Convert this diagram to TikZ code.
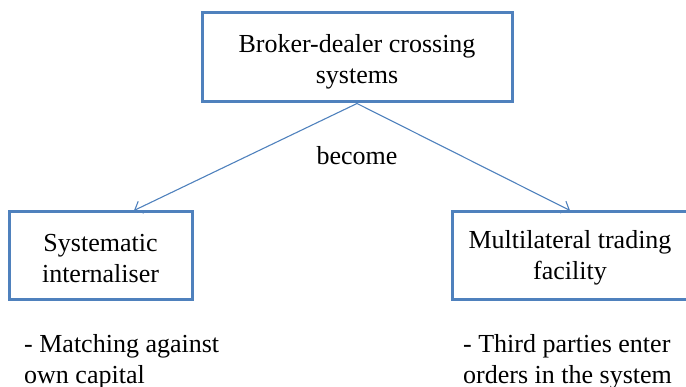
\documentclass[tikz,border=0pt]{standalone}
\usepackage{fontspec}
\setmainfont{Liberation Serif}
\usepackage{tikz}
\usetikzlibrary{arrows.meta,positioning}
\definecolor{boxblue}{RGB}{79,129,189}
\newcommand{\boxstrut}[1]{\rule{0pt}{#1}}
\tikzset{
  sysbox/.style={draw=boxblue,line width=3pt,align=center,inner sep=0pt},
  becomearrow/.style={draw=boxblue,line width=1.1pt,-{Straight Barb[length=7pt,width=13pt]}},
  notetext/.style={align=left,anchor=north west,inner sep=0pt}
}
\begin{document}
\begin{tikzpicture}[x=1pt,y=1pt,font=\fontsize{26}{31}\selectfont]
\useasboundingbox (0,0) rectangle (686,387);
%top box
\node[sysbox,minimum width=310pt,minimum height=89pt] (broker) at (357,329.5) {\boxstrut{26pt}Broker-dealer crossing\\systems};
%the two boxes below
\node[sysbox,minimum width=183pt,minimum height=88pt] (si) at (100.5,131) {\boxstrut{22pt}Systematic\\internaliser};
\node[sysbox,minimum width=236pt,minimum height=88pt] (mtf) at (570,131) {\boxstrut{22pt}Multilateral trading\\facility};
%arrows and label
\draw[becomearrow] (broker.south) -- ([xshift=33.5pt]si.north);
\draw[becomearrow] (broker.south) -- (mtf.north);
\node (become) at (357,231) {become};
%notes under the boxes
\node[notetext] (sinote) at (24,53) {- Matching against\\own capital};
\node[notetext] (mtfnote) at (463,53) {- Third parties enter\\orders in the system};
\end{tikzpicture}
\end{document}
